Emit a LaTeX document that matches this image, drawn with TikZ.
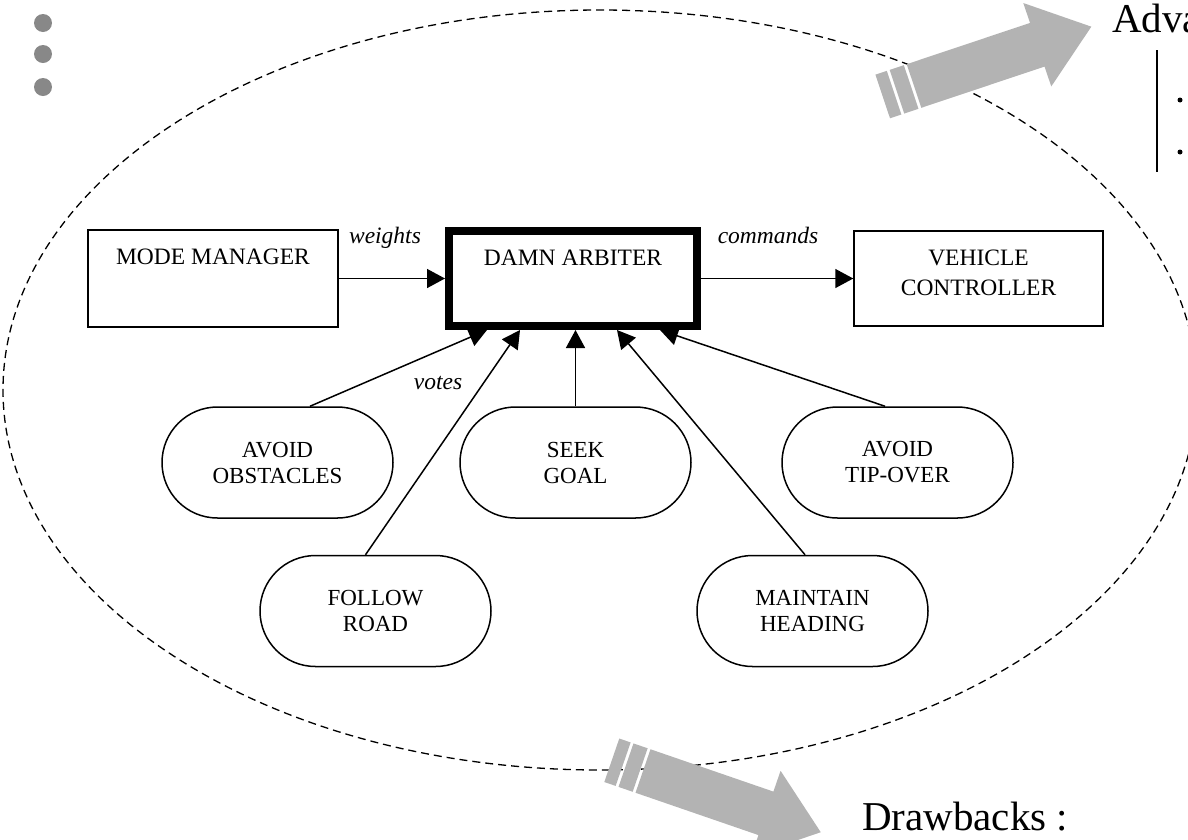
\documentclass[tikz,border=0pt]{standalone}
\usepackage{fontspec}
\setmainfont{Liberation Serif}
\usetikzlibrary{arrows.meta,shapes.misc,calc}
\definecolor{arrowgray}{HTML}{B3B3B3}
\definecolor{dotgray}{HTML}{888888}
\begin{document}
\begin{tikzpicture}[x=1pt,y=-1pt,
  blockbox/.style={draw, line width=1.5pt, rectangle, inner sep=0pt},
  arbbox/.style={draw, line width=8pt, rectangle, inner sep=0pt},
  behav/.style={draw, line width=1.5pt, rounded rectangle, minimum width=231pt,
    minimum height=111pt, align=center, inner sep=0pt,
    font=\fontsize{23}{26}\selectfont},
  boxtext/.style={inner sep=0pt, align=center, font=\fontsize{23.5}{30}\selectfont},
  flowlabel/.style={anchor=base, inner sep=0pt, font=\fontsize{23.5}{28}\selectfont\itshape},
  link/.style={line width=1.5pt, -{Triangle[length=18pt,width=19pt]}},
  bigarrow/.style={fill=arrowgray},
  bigtext/.style={anchor=base west, inner sep=0pt, font=\fontsize{41}{48}\selectfont},
  menudot/.style={fill=dotgray},
  boundary/.style={draw, line width=1.3pt, dash pattern=on 8pt off 5pt}
]
\useasboundingbox (0,0) rectangle (1188,839);
\clip (0,0) rectangle (1188,839);

% menu dots
\fill[menudot] (43,23) circle (9);
\fill[menudot] (43,54) circle (9);
\fill[menudot] (43,87) circle (9);

% dashed boundary of the arbitration system
\draw[boundary] (600,390) ellipse [x radius=597, y radius=380];

% large striped arrows
\begin{scope}[shift={(914,86)}, rotate=18.5]
  \fill[bigarrow] (0,-23) -- (130,-23) -- (130,-44) -- (187,0) -- (130,44) -- (130,23) -- (0,23) -- cycle;
  \fill[bigarrow] (-18,-23) rectangle (-3,23);
  \fill[bigarrow] (-33,-23) rectangle (-21,23);
\end{scope}
\begin{scope}[shift={(643,771)}, rotate=-19]
  \fill[bigarrow] (0,-23) -- (130,-23) -- (130,-45) -- (188,0) -- (130,45) -- (130,23) -- (0,23) -- cycle;
  \fill[bigarrow] (-18,-23) rectangle (-3,23);
  \fill[bigarrow] (-33,-23) rectangle (-21,23);
\end{scope}

% side texts
\node[bigtext] (adv) at (1112,32) {Adva};
\draw[line width=1.5pt] (1157,50) -- (1157,172);
\fill (1180,100) circle (2.5);
\fill (1180,152) circle (2.5);
\node[bigtext] (drw) at (862,830) {Drawbacks :};

% main boxes
\node[blockbox, minimum width=250pt, minimum height=97pt] (mm) at (213,278.5) {};
\node[boxtext, anchor=base] (mmt) at (213,264) {MODE MANAGER};
\node[arbbox, minimum width=248pt, minimum height=95pt] (arb) at (573,278.5) {};
\node[boxtext, anchor=base] (arbt) at (573,265) {DAMN ARBITER};
\node[blockbox, minimum width=249pt, minimum height=95pt] (vc) at (978.5,278.5) {};
\node[boxtext] (vct) at (978.5,273) {VEHICLE\\CONTROLLER};

% behaviours
\node[behav] (ao) at (277.5,462.5) {AVOID\\OBSTACLES};
\node[behav] (sg) at (575.5,462.5) {SEEK\\GOAL};
\node[behav] (at) at (897.5,462.5) {AVOID\\TIP-OVER};
\node[behav] (fr) at (375.5,611) {FOLLOW\\ROAD};
\node[behav] (mh) at (812.5,611) {MAINTAIN\\HEADING};

% connectors
\draw[link] (mm.east) -- (arb.west);
\draw[link] (arb.east) -- (vc.west);
\draw[link] ([xshift=32.5pt]ao.north) -- ([xshift=42pt]arb.south west);
\draw[link] ([xshift=-10pt]fr.north) -- ([xshift=75pt]arb.south west);
\draw[link] (sg.north) -- (sg.north |- arb.south);
\draw[link] ([xshift=-7.5pt]mh.north) -- ([xshift=172pt]arb.south west);
\draw[link] ([xshift=-12.5pt]at.north) -- ([xshift=215pt]arb.south west);

% connector labels
\node[flowlabel] (lw) at (385,243) {weights};
\node[flowlabel] (lc) at (768,243) {commands};
\node[flowlabel] (lv) at (438,389) {votes};
\end{tikzpicture}
\end{document}
